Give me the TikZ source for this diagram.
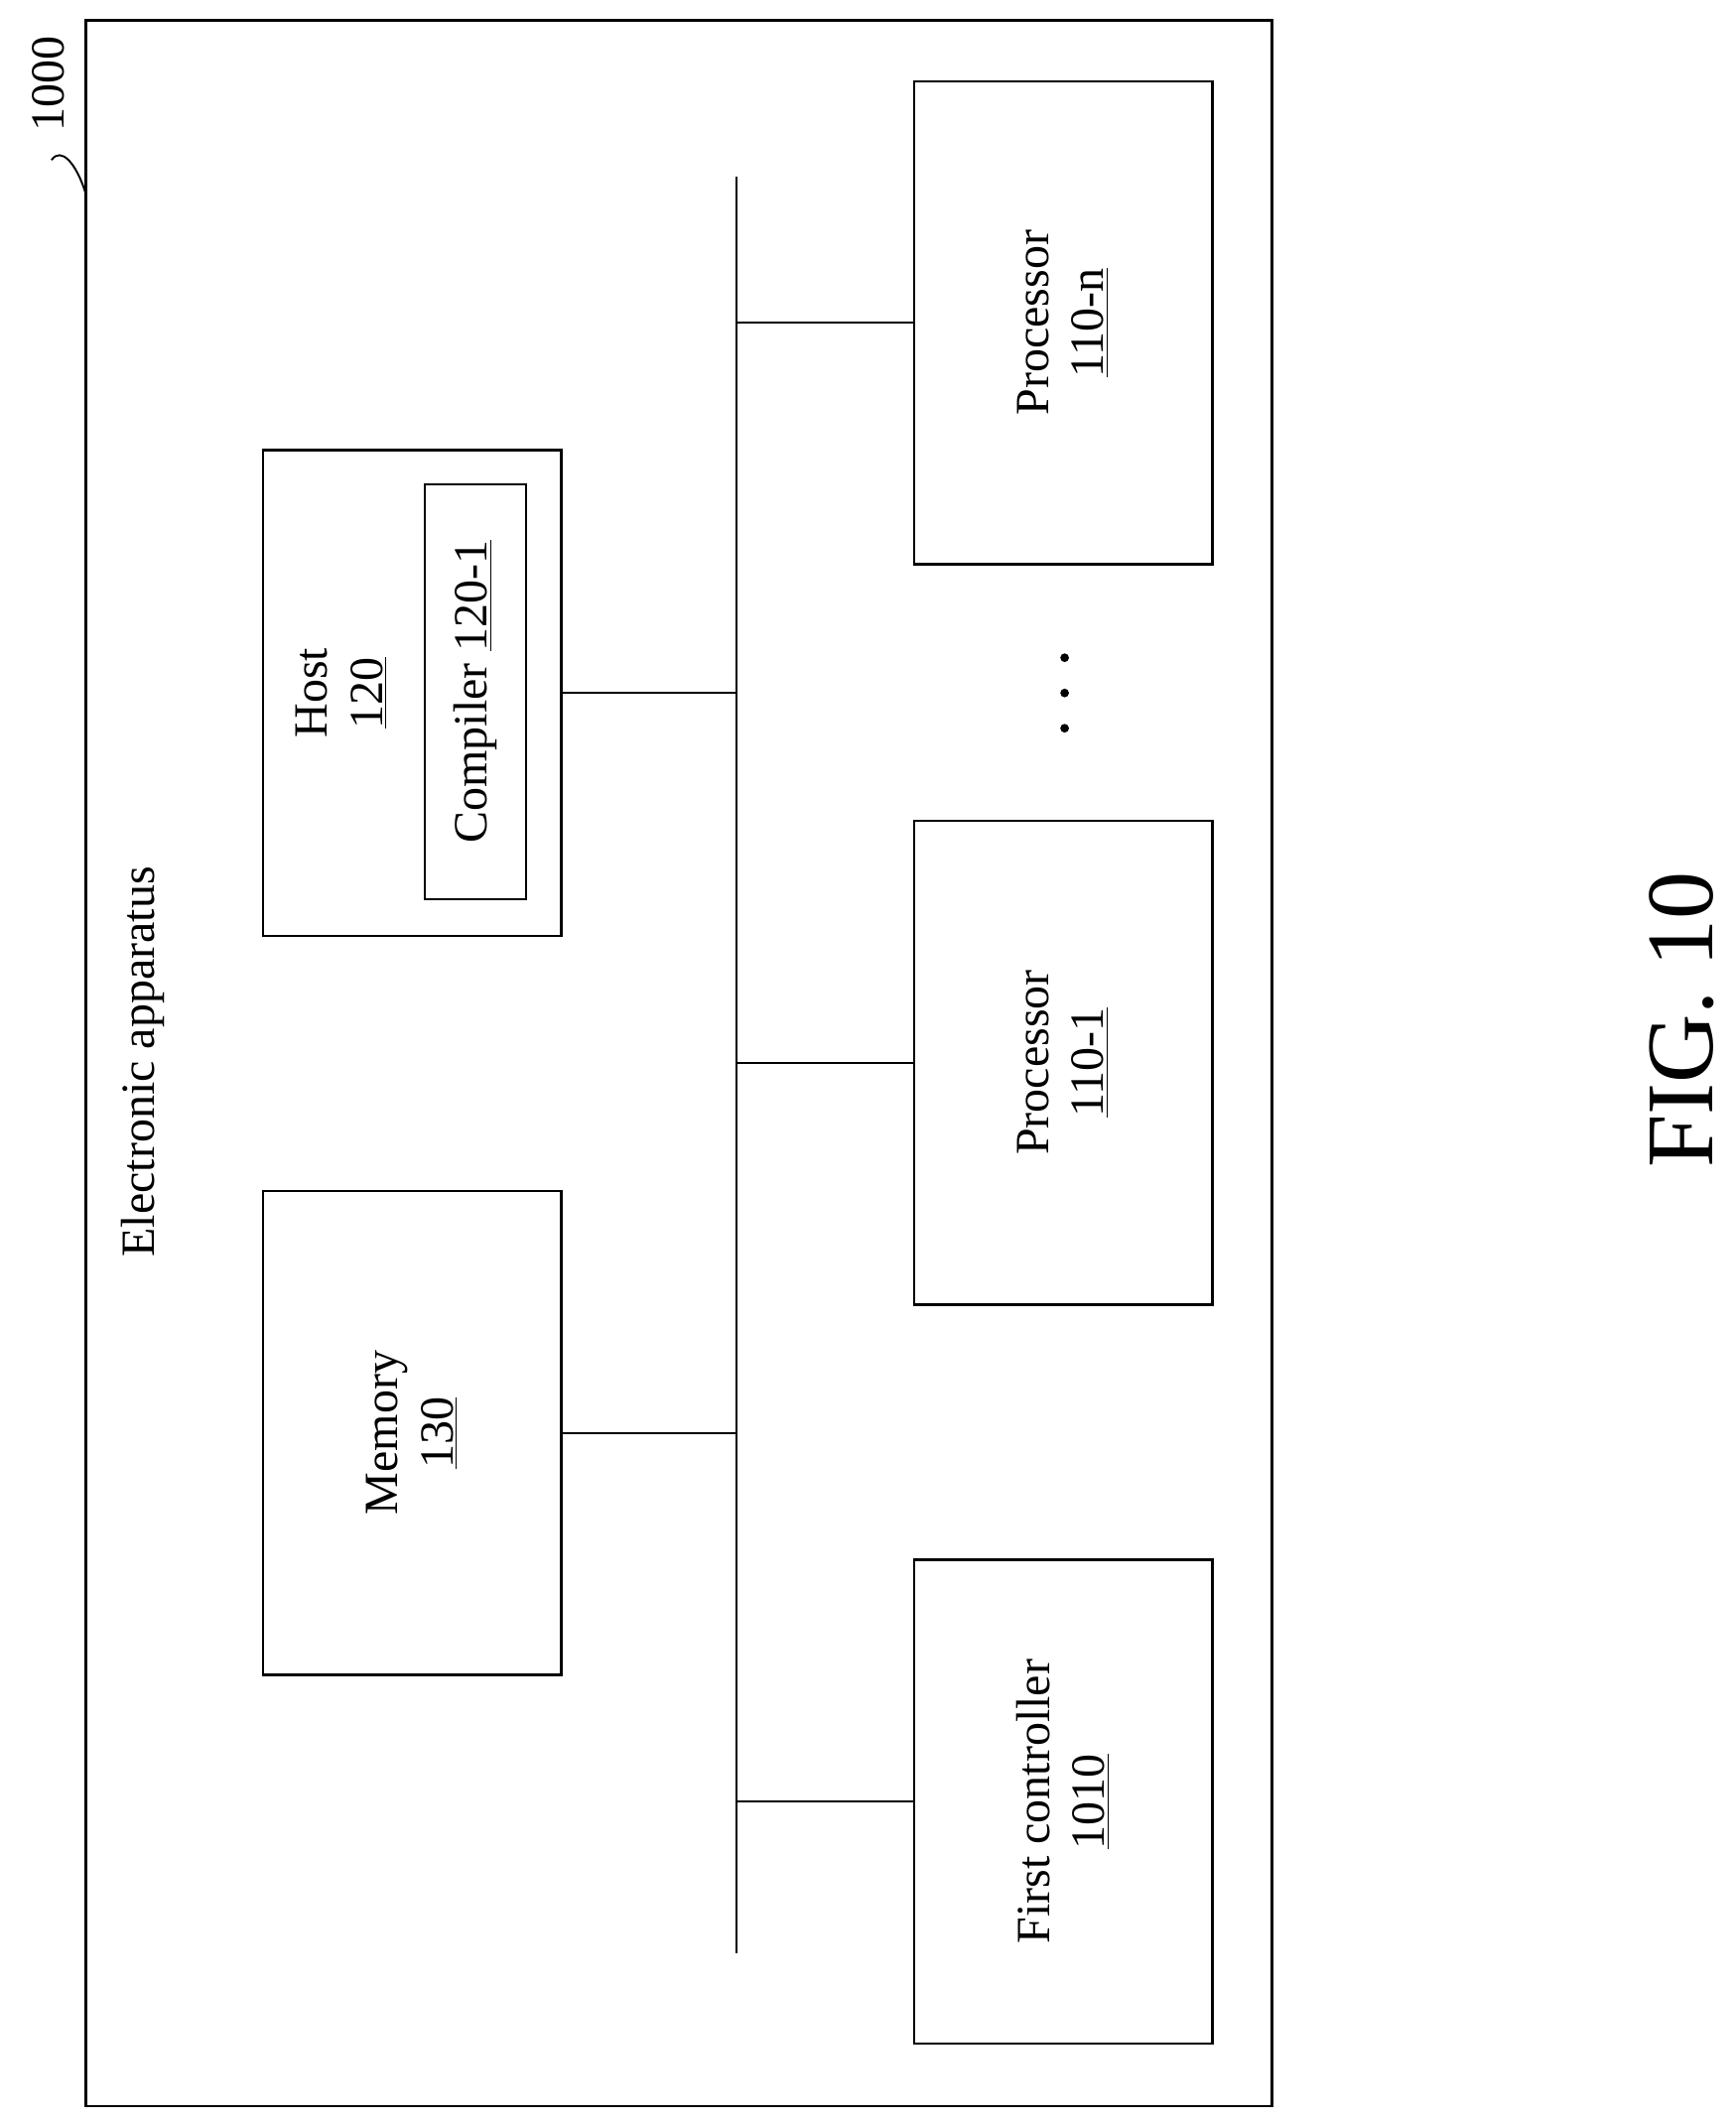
\documentclass[tikz,border=0pt]{standalone}
\usepackage{fontspec}
\setmainfont{Liberation Serif}
\usetikzlibrary{positioning}
\tikzset{
  unitbox/.style={draw, line width=1pt, inner sep=0pt},
  label text/.style={rotate=90, align=center, font=\fontsize{20}{23}\selectfont},
  bus link/.style={line width=0.8pt}
}
\begin{document}
\begin{tikzpicture}[x=0.02cm, y=-0.02cm]
  % page frame
  \useasboundingbox (0,0) rectangle (1280,1564);

  % outer apparatus box
  \draw[line width=1.2pt] (63,15) rectangle (938,1553);
  \node[label text] (reflabel) at (36,62) {1000};
  \draw[line width=0.8pt] (38,118) .. controls (45,108) and (56,120) .. (63,142);
  \node[label text] (apptext) at (105,783) {Electronic apparatus};

  % host with compiler
  \node[unitbox, minimum width=4.4cm, minimum height=7.16cm] (host) at (304,511) {};
  \node[label text] (hosttext) at (252,511) {Host\\\underline{120}};
  \node[unitbox, line width=0.8pt, minimum width=1.5cm, minimum height=6.12cm] (compiler) at (350.5,510) {};
  \node[label text] at (compiler) {Compiler \underline{120-1}};

  % memory
  \node[unitbox, minimum width=4.4cm, minimum height=7.14cm] (memory) at (304,1056.5) {};
  \node[label text] at (memory) {Memory\\\underline{130}};

  % processors and controller
  \node[unitbox, minimum width=4.4cm, minimum height=7.12cm] (procn) at (784,238) {};
  \node[label text] at (procn) {Processor\\\underline{110-n}};
  \node[unitbox, minimum width=4.4cm, minimum height=7.14cm] (proc1) at (784,783.5) {};
  \node[label text] at (proc1) {Processor\\\underline{110-1}};
  \node[unitbox, minimum width=4.4cm, minimum height=7.14cm] (ctrl) at (784,1328.5) {};
  \node[label text] at (ctrl) {First controller\\\underline{1010}};

  % dots between processors
  \foreach \y in {485,511,537}
    \fill (785,\y) circle (3.2);

  % bus
  \coordinate (bustop) at (543,130);
  \coordinate (busbot) at (543,1440);
  \draw[bus link] (bustop) -- (busbot);
  \draw[bus link] (host.east) -- (host.east -| bustop);
  \draw[bus link] (memory.east) -- (memory.east -| bustop);
  \draw[bus link] (procn.west) -- (procn.west -| bustop);
  \draw[bus link] (proc1.west) -- (proc1.west -| bustop);
  \draw[bus link] (ctrl.west) -- (ctrl.west -| bustop);

  % figure caption
  \node[rotate=90, font=\fontsize{40}{46}\selectfont] (caption) at (1240,752) {FIG. 10};
\end{tikzpicture}
\end{document}
